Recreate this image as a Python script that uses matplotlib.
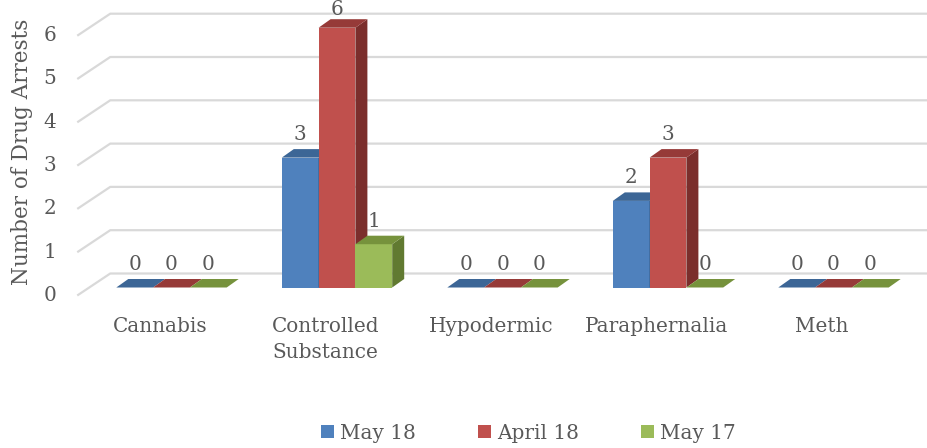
import matplotlib
matplotlib.use('Agg')
import matplotlib.pyplot as plt
from matplotlib.patches import Polygon, Patch

# --- Data ---
categories = ['Cannabis', 'Controlled\nSubstance', 'Hypodermic', 'Paraphernalia', 'Meth']
series_names = ['May 18', 'April 18', 'May 17']
may18 = [0, 3, 0, 2, 0]
april18 = [0, 6, 0, 3, 0]
may17 = [0, 1, 0, 0, 0]
y_ticks = [0, 1, 2, 3, 4, 5, 6]

# --- Styling ---
front_cols = ['#4F81BD', '#C0504D', '#9BBB59']
top_cols = ['#3C6696', '#963A38', '#76923C']
side_cols = ['#2F527A', '#7B2E2C', '#617A31']
grid_col = '#D9D9D9'
text_col = '#595959'
FONT = 'DejaVu Serif'
FS = 14.4

# pixel scale of the fake 3D projection
PX_CAT = 165.5
PX_VAL = 43.3
W, H = 927, 448
X0, Y0 = 171.5, 287.5   # pixel position of category 0 / value 0 on the bar plane

bar_w = 36.8 / PX_CAT
bdx, bdy = 12 / PX_CAT, 8.5 / PX_VAL       # bar depth
wbx, wby = 21.5 / PX_CAT, 14 / PX_VAL      # back wall offset
wfx, wfy = -11.5 / PX_CAT, -8 / PX_VAL     # front plane offset
left = -0.5
right = len(categories) - 0.5

fig = plt.figure(figsize=(W / 100, H / 100), dpi=100)
ax = fig.add_axes([0, 0, 1, 1])
ax.set_xlim(-X0 / PX_CAT, (W - X0) / PX_CAT)
ax.set_ylim((Y0 - H) / PX_VAL, Y0 / PX_VAL)
ax.axis('off')
y_top = Y0 / PX_VAL

# --- Gridlines (left wall slant + back wall) ---
for v in y_ticks:
    ax.plot([left + wfx, left + wbx, right + wbx], [v + wfy, v + wby, v + wby],
            color=grid_col, lw=1.6, zorder=1, solid_capstyle='butt')
    ax.text(left + wfx - 21 / PX_CAT, v + wfy, str(v), ha='right', va='center',
            fontsize=FS, color=text_col, family=FONT)

# --- Bars ---
series = [may18, april18, may17]
for i in range(len(categories)):
    for s, vals in enumerate(series):
        v = vals[i]
        x1 = i + (s - 1.5) * bar_w
        x2 = x1 + bar_w
        if v > 0:
            ax.add_patch(Polygon([(x1, 0), (x2, 0), (x2, v), (x1, v)],
                                 closed=True, fc=front_cols[s], ec='none', zorder=3))
            ax.add_patch(Polygon([(x2, 0), (x2 + bdx, bdy), (x2 + bdx, v + bdy), (x2, v)],
                                 closed=True, fc=side_cols[s], ec='none', zorder=3))
        ax.add_patch(Polygon([(x1, v), (x2, v), (x2 + bdx, v + bdy), (x1 + bdx, v + bdy)],
                             closed=True, fc=top_cols[s], ec='none', zorder=3))
        # keep the tallest label inside the picture
        ly = min(v + 23 / PX_VAL, y_top - 10 / PX_VAL)
        ax.text((x1 + x2) / 2, ly, str(v), ha='center', va='center',
                fontsize=FS, color=text_col, family=FONT, zorder=4)

# --- Category labels ---
for i, c in enumerate(categories):
    ax.text(i + wfx, (Y0 - 317) / PX_VAL, c, ha='center', va='top', fontsize=FS,
            color=text_col, family=FONT, linespacing=1.45)

# --- Y axis title ---
fig.text(22 / W, 1 - 152 / H, 'Number of Drug Arrests', rotation=90, ha='center',
         va='center', fontsize=15.5, color=text_col, family=FONT)

# --- Legend ---
handles = [Patch(fc=front_cols[k], ec='none', label=series_names[k]) for k in range(3)]
leg = fig.legend(handles=handles, loc='center', bbox_to_anchor=(528.5 / W, 15 / H),
                 ncol=3, frameon=False, fontsize=FS, handlelength=0.65, handleheight=0.65,
                 handletextpad=0.3, columnspacing=3.1, borderpad=0, borderaxespad=0)
for t in leg.get_texts():
    t.set_color(text_col)
    t.set_family(FONT)

fig.savefig('out.png', dpi=100)
